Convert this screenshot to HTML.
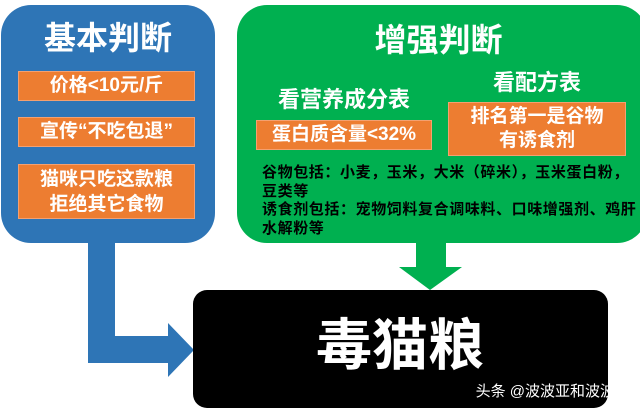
<!DOCTYPE html>
<html><head><meta charset="utf-8"><style>
body{margin:0;width:640px;height:414px;background:#fff;position:relative;overflow:hidden;font-family:"Liberation Sans","Noto Sans CJK SC",sans-serif;font-weight:bold}
div{position:absolute;box-sizing:border-box}
.o{background:#ed7d31;color:#fff;text-align:center;border:1px solid #f4a070}
.t{color:#fff;text-align:center;white-space:nowrap}
</style></head><body>
<svg style="position:absolute;left:0;top:0" width="640" height="414">
<path d="M88,240 H115 V336 H168 V323 L194,350 L168,377 V363 H88 Z" fill="#2e75b6"/>
<path d="M416,240 H446 V267 H462 L430,290 L399,267 H416 Z" fill="#00b050"/>
</svg>
<div style="left:1px;top:5px;width:214px;height:238px;background:#2e75b6;border-radius:30px"></div>
<div class="t" style="left:1px;top:16px;width:214px;font-size:32px;line-height:44px">基本判断</div>
<div class="o" style="left:18px;top:71px;width:177px;height:30px;font-size:19px;line-height:28px">价格&lt;10元/斤</div>
<div class="o" style="left:18px;top:117px;width:177px;height:30px;font-size:19px;line-height:28px">宣传“不吃包退”</div>
<div class="o" style="left:18px;top:164px;width:177px;height:55px;font-size:19px;line-height:25px;padding-top:2px">猫咪只吃这款粮<br>拒绝其它食物</div>
<div style="left:237px;top:5px;width:410px;height:238px;background:#00b050;border-radius:30px"></div>
<div class="t" style="left:237px;top:18px;width:403px;font-size:32px;line-height:44px">增强判断</div>
<div class="t" style="left:256px;top:86px;width:176px;font-size:22px;line-height:28px">看营养成分表</div>
<div class="o" style="left:256px;top:120px;width:176px;height:30px;font-size:19px;line-height:28px">蛋白质含量&lt;32%</div>
<div class="t" style="left:448px;top:69px;width:178px;font-size:22px;line-height:28px">看配方表</div>
<div class="o" style="left:448px;top:102px;width:178px;height:54px;font-size:19px;line-height:24px;padding-top:2px">排名第一是谷物<br>有诱食剂</div>
<div style="left:262px;top:164px;width:380px;font-size:15px;line-height:18.5px;color:#000;letter-spacing:0.6px;white-space:nowrap">谷物包括：小麦，玉米，大米（碎米），玉米蛋白粉，<br>豆类等<br>诱食剂包括：宠物饲料复合调味料、口味增强剂、鸡肝<br>水解粉等</div>
<div style="left:193px;top:290px;width:415px;height:118px;background:#000;border-radius:14px"></div>
<div class="t" style="left:300px;top:316px;width:200px;font-size:56px;line-height:60px">毒猫粮</div>
<div class="t" style="left:456px;top:382px;width:174px;font-size:15px;line-height:20px;font-weight:normal;text-align:right">头条 @波波亚和波波妞</div>
</body></html>
